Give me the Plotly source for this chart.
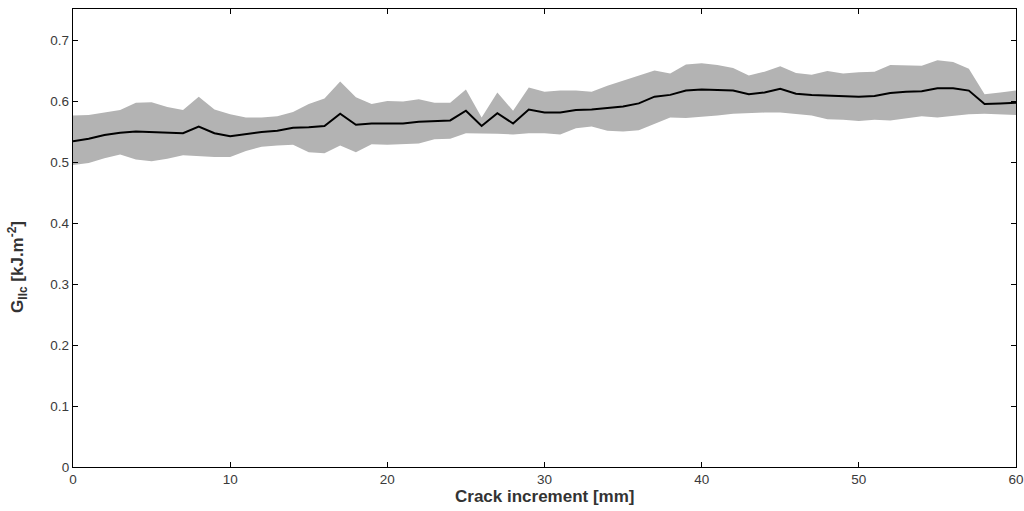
import plotly.graph_objects as go

crack = list(range(0, 61))

g_mean = [0.535, 0.539, 0.545, 0.549, 0.551, 0.550, 0.549, 0.548, 0.559, 0.548,
          0.543, 0.547, 0.550, 0.552, 0.557, 0.558, 0.560, 0.580, 0.562, 0.564,
          0.564, 0.564, 0.567, 0.568, 0.569, 0.585, 0.560, 0.581, 0.564, 0.587,
          0.582, 0.582, 0.586, 0.587, 0.589, 0.592, 0.597, 0.608, 0.611, 0.618,
          0.620, 0.619, 0.618, 0.612, 0.615, 0.621, 0.613, 0.611, 0.610, 0.608,
          0.608, 0.609, 0.614, 0.616, 0.617, 0.622, 0.622, 0.618, 0.596, 0.597,
          0.598]

g_upper = [0.577, 0.578, 0.582, 0.586, 0.598, 0.599, 0.591, 0.586, 0.608, 0.587,
           0.579, 0.574, 0.574, 0.576, 0.583, 0.596, 0.605, 0.633, 0.607, 0.596,
           0.601, 0.600, 0.604, 0.598, 0.598, 0.620, 0.574, 0.615, 0.585, 0.623,
           0.616, 0.618, 0.618, 0.616, 0.626, 0.634, 0.643, 0.651, 0.646, 0.661,
           0.663, 0.660, 0.655, 0.643, 0.649, 0.658, 0.647, 0.644, 0.650, 0.646,
           0.648, 0.649, 0.660, 0.660, 0.659, 0.668, 0.665, 0.654, 0.612, 0.615,
           0.618]

g_lower = [0.496, 0.499, 0.507, 0.513, 0.505, 0.502, 0.506, 0.512, 0.510, 0.509,
           0.509, 0.519, 0.526, 0.528, 0.529, 0.517, 0.515, 0.528, 0.517, 0.530,
           0.529, 0.530, 0.531, 0.538, 0.539, 0.548, 0.547, 0.547, 0.546, 0.548,
           0.548, 0.546, 0.556, 0.559, 0.552, 0.551, 0.553, 0.564, 0.574, 0.573,
           0.575, 0.577, 0.580, 0.581, 0.582, 0.582, 0.580, 0.577, 0.571, 0.570,
           0.568, 0.570, 0.569, 0.572, 0.576, 0.574, 0.577, 0.579, 0.580, 0.579,
           0.578]

x_ticks = [0, 10, 20, 30, 40, 50, 60]
y_ticks = [0, 0.1, 0.2, 0.3, 0.4, 0.5, 0.6, 0.7]
y_ticktext = ["0", "0.1", "0.2", "0.3", "0.4", "0.5", "0.6", "0.7"]

x_title = "<b>Crack increment [mm]</b>"
y_title = "<b>G<sub>IIc</sub> [kJ.m<sup>-2</sup>]</b>"

fig = go.Figure()
fig.add_trace(go.Scatter(
    x=crack + crack[::-1],
    y=g_upper + g_lower[::-1],
    fill="toself",
    fillcolor="#b3b3b3",
    line=dict(width=0, color="#b3b3b3"),
    mode="lines",
    hoverinfo="skip",
    showlegend=False,
))
fig.add_trace(go.Scatter(
    x=crack, y=g_mean, mode="lines",
    line=dict(color="black", width=2),
    showlegend=False,
))

axis_common = dict(
    showline=True, linecolor="black", linewidth=1.3, mirror="ticks",
    ticks="inside", ticklen=5, tickwidth=1, tickcolor="black",
    showgrid=False, zeroline=False, automargin=False,
    tickfont=dict(family="Arial, Liberation Sans, sans-serif", size=13.5, color="#3a3a3a"),
)

fig.update_layout(
    width=1024, height=511,
    margin=dict(l=73, r=8, t=9, b=44),
    paper_bgcolor="white", plot_bgcolor="white",
    font=dict(family="Arial, Liberation Sans, sans-serif", color="#262626"),
    xaxis=dict(range=[0, 60], tickvals=x_ticks, **axis_common),
    yaxis=dict(range=[0, 0.752], tickvals=y_ticks, ticktext=y_ticktext, **axis_common),
    annotations=[
        dict(text=x_title, xref="paper", yref="paper", x=0.5, y=-0.0655,
             xanchor="center", yanchor="middle", showarrow=False,
             font=dict(size=17, color="#333333")),
        dict(text=y_title, xref="paper", yref="paper", x=-0.0583, y=0.437,
             xanchor="center", yanchor="middle", textangle=-90, showarrow=False,
             font=dict(size=17, color="#333333")),
    ],
)

fig.write_html("out.html")
